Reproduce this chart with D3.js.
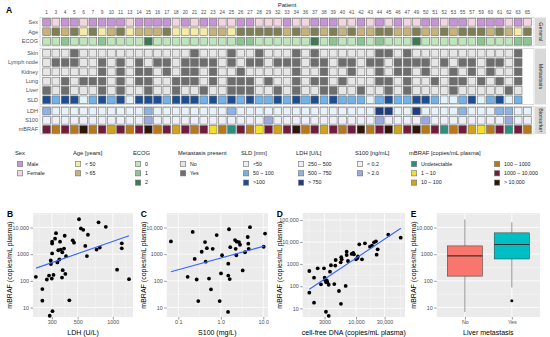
<!DOCTYPE html>
<html>
<head>
<meta charset="utf-8">
<script src="https://cdn.jsdelivr.net/npm/d3@7"></script>
<style>
  body { margin: 0; background: #fff; }
</style>
</head>
<body>
<div id="chart"></div>
<script>
// ---------------- panel A data ----------------
const patients = [1,3,4,5,6,7,9,10,11,13,14,15,16,17,18,20,21,22,23,24,25,26,27,28,29,32,33,34,36,37,
  38,39,40,41,42,43,44,45,46,47,49,50,51,52,53,55,57,59,60,61,62,63,65];

const sexLevels = ["Male", "Female"];
const sexValues = [0,1,0,0,1,0,0,0,0,1, 0,0,0,0,1,0,1,0,0,1, 1,0,0,1,1,1,0,1,1,0, 0,0,1,1,0,1,0,1,0,1, 1,0,0,1,0,0,1,0,0,0, 1,0,1];
// 0 = "< 50", 1 = "> 65", 2 = middle group (not in the legend)
const ageLevels = ["< 50", "> 65", "50 – 65"];
const ageValues = [1,2,1,2,0,2,0,1,2,0, 1,1,1,2,0,0,0,0,1,1, 0,2,2,2,2,2,1,2,1,2, 1,2,1,2,1,1,2,2,1,1, 2,1,1,2,1,2,2,2,1,2, 1,0,2];
const ecogLevels = ["0", "1", "2"];
const ecogValues = [0,0,1,0,0,0,1,0,0,0, 0,2,0,0,0,0,0,0,0,0, 0,1,1,0,0,0,0,0,0,2, 0,1,0,0,1,0,1,0,0,0, 2,0,0,0,0,0,0,1,0,0, 0,1,1];

const metLevels = ["No", "Yes"];
const skinValues   = [0,0,0,1,0,0,0,0,0,0, 0,0,0,0,0,0,1,0,0,0, 1,0,0,1,0,0,0,1,0,1, 0,0,0,0,0,0,1,1,0,1, 0,0,0,0,0,0,0,0,0,0, 0,1,null];
const lymphValues  = [0,1,1,1,0,0,1,0,1,0, 1,0,1,1,0,1,1,1,1,0, 1,0,1,1,0,1,1,1,0,1, 1,0,1,1,0,1,1,0,1,1, 1,1,0,1,0,1,1,0,1,1, 0,1,null];
const kidneyValues = [0,0,0,0,0,0,1,0,1,0, 1,1,0,1,0,1,1,0,1,0, 0,1,0,0,0,0,0,1,0,0, 1,0,0,1,0,0,1,0,1,1, 0,1,0,0,1,0,1,0,1,0, 0,1,null];
const lungValues   = [0,0,1,0,1,1,1,0,1,0, 1,1,0,0,1,1,1,0,1,0, 1,1,1,0,1,0,0,1,0,1, 1,0,1,0,0,0,1,1,0,1, 0,0,1,0,1,1,0,1,0,1, 0,1,null];
const liverValues  = [1,0,1,0,0,0,1,0,1,0, 0,1,0,0,1,0,0,1,0,0, 1,1,1,0,0,1,0,1,0,0, 1,1,0,0,1,0,0,1,0,1, 0,0,0,0,1,0,0,0,0,0, 1,0,null];
const sldLevels = ["<50", "50 – 100", ">100"];
const sldValues    = [2,1,2,2,0,1,2,1,2,0, 2,2,2,1,2,2,2,1,2,1, 2,1,2,1,1,2,1,2,1,2, 1,2,1,1,1,0,1,2,1,1, 2,2,1,0,0,1,2,0,1,2, 0,1,null];

const ldhLevels = ["250 – 500", "500 – 750", "> 750"];
const ldhValues  = [1,0,0,0,0,0,0,0,0,0, 0,1,0,0,0,0,0,0,0,0, 1,0,0,0,0,0,0,0,0,0, 0,0,0,0,0,0,2,2,0,0, 2,0,0,0,0,1,0,0,0,1, 1,0,0];
const s100Levels = ["< 0.2", "> 2.0"];
const s100Values = [0,0,0,0,0,0,0,0,0,0, 0,1,0,0,0,0,0,0,0,0, 0,0,0,0,1,0,0,0,0,0, 0,0,0,0,0,0,1,0,0,0, 0,1,0,0,0,0,0,0,0,0, 1,0,0];
const mbrafLevels = ["Undetectable", "1 – 10", "10 – 100", "100 – 1000", "1000 – 10,000", "> 10,000"];
const mbrafValues = [4,3,4,3,5,3,4,2,4,3, 4,5,3,4,2,4,3,4,1,3, 0,4,3,1,4,2,4,5,3,4, 2,4,3,4,5,3,4,5,2,4, 5,3,4,0,3,4,2,1,3,4, 0,4,3];

// ---------------- panels B-E data ----------------
const ldhB = [219,249,249,272,284,288,294,295,300,302,302,302,304,310,320,326,335,341,348,353,358,367,369,372,382,
  387,392,397,424,453,465,513,533,558,581,600,612,726,755,774,871,1088,1194,1194,1377];
const mbrafB = [141,49,18,112,158,4.9,585,427,122,1070,2500,2950,7.3,166,3800,6150,490,1400,630,2950,1490,132,1180,250,1620,
  4900,182,840,18.6,3300,2700,20400,9200,8200,2030,850,5350,1490,15700,1770,10600,263,2550,1660,115];
const fitBx = [220, 1377], fitBy = [300, 4900];

const s100C = [0.067,0.166,0.218,0.243,0.271,0.295,0.355,0.425,0.44,0.47,0.527,0.587,0.644,0.80,0.94,1.01,1.07,1.48,1.5,1.5,
  1.56,1.62,1.67,2.16,2.24,2.32,2.37,2.68,2.83,3.27,3.71,4.3,4.44,4.86,4.53,10.2,11];
const mbrafC = [3000,141,6800,665,112,17.4,1230,2840,525,1680,122,48,1590,5200,17.4,190,910,6.8,440,158,
  8600,116,1830,3380,1590,910,2940,2840,2260,245,1180,4400,2470,10300,1590,1900,5900];
const fitCx = [0.067, 10.5], fitCy = [220, 2000];

const cfdnaD = [1670,1670,2000,2000,2300,2610,2930,3010,3080,3160,3250,3330,3510,3160,3510,3690,3830,4520,4590,4350,
  5210,5560,5620,5780,5690,6730,7000,7000,7360,8480,9020,9260,10000,10500,10800,11350,12600,14100,17100,18500,
  20000,21500,22100,23000,34500,55600];
const mbrafD = [490,51,245,18,650,122,650,245,186,155,186,151,117,7,4.6,455,890,860,1540,126,
  61,1210,16,1660,2050,103,2600,3660,1390,2890,3200,2800,1660,1840,2270,7940,1660,8800,6200,6860,
  9770,10800,2680,4710,21600,15800];
const fitDx = [1670, 56000], fitDy = [73, 42000];

const liverGroups = ["No", "Yes"];
const boxLow = [6.8, 56], boxQ1 = [150, 660], boxMed = [860, 2300], boxQ3 = [2040, 6300], boxHigh = [20000, 15800];
const outlierGroup = ["Yes"], outlierValue = [18];

// ---------------- colours ----------------
const sexColors = ["#c993d8", "#f3d5df"];
const ageColors = ["#f6eba6", "#c6b27b", "#7f7f56"];
const ecogColors = ["#bfe5bd", "#8cc494", "#3e7b53"];
const metColors = ["#e6e6e6", "#6e6e6e"];
const sldColors = ["#e3f3fa", "#72b2e6", "#1d4e92"];
const ldhColors = ["#e8f2fa", "#8fb3e0", "#1f3d7f"];
const s100Colors = ["#edf0fa", "#9aa9e1"];
const mbrafColors = ["#2e8e7e", "#f2df2c", "#cfa21f", "#b5781e", "#701d3c", "#2f160a"];

const FONT = "'Liberation Sans', Arial, sans-serif";

const svg = d3.select("#chart").append("svg")
  .attr("width", 550).attr("height", 337)
  .style("font-family", FONT);

// ================= panel A =================
const heatRows = [
  {group: "General", name: "Sex", values: sexValues, colors: sexColors},
  {group: "General", name: "Age", values: ageValues, colors: ageColors},
  {group: "General", name: "ECOG", values: ecogValues, colors: ecogColors},
  {group: "Metastasis", name: "Skin", values: skinValues, colors: metColors},
  {group: "Metastasis", name: "Lymph node", values: lymphValues, colors: metColors},
  {group: "Metastasis", name: "Kidney", values: kidneyValues, colors: metColors},
  {group: "Metastasis", name: "Lung", values: lungValues, colors: metColors},
  {group: "Metastasis", name: "Liver", values: liverValues, colors: metColors},
  {group: "Metastasis", name: "SLD", values: sldValues, colors: sldColors},
  {group: "Biomarker", name: "LDH", values: ldhValues, colors: ldhColors},
  {group: "Biomarker", name: "S100", values: s100Values, colors: s100Colors},
  {group: "Biomarker", name: "mBRAF", values: mbrafValues, colors: mbrafColors}
];
const groupBox = {General: [17.5, 46], Metastasis: [48.5, 104.5], Biomarker: [106.5, 134]};

const xA = d3.scaleBand().domain(patients).range([42, 532]).paddingInner(0.16).paddingOuter(0.08);
const cell = xA.bandwidth();

svg.append("text").attr("x", 6).attr("y", 13).attr("font-size", 8.5).attr("font-weight", "bold").text("A");
svg.append("text").attr("x", 287).attr("y", 7).attr("text-anchor", "middle")
  .attr("font-size", 6).attr("fill", "#1a1a1a").text("Patient");
svg.append("g").selectAll("text").data(patients).join("text")
  .attr("x", d => xA(d) + cell / 2).attr("y", 14)
  .attr("text-anchor", "middle").attr("font-size", 4.8).attr("fill", "#4d4d4d")
  .text(d => d);

Object.keys(groupBox).forEach(g => {
  const rows = heatRows.filter(r => r.group === g);
  const [y0, y1] = groupBox[g];
  const yA = d3.scaleBand().domain(rows.map(r => r.name)).range([y0, y1]).paddingInner(0.16).paddingOuter(0.08);

  svg.append("rect").attr("x", 40).attr("y", y0).attr("width", 494).attr("height", y1 - y0)
    .attr("fill", "#fff").attr("stroke", "#c4c4c4").attr("stroke-width", 0.6);
  svg.append("rect").attr("x", 535).attr("y", y0).attr("width", 11).attr("height", y1 - y0)
    .attr("fill", "#d9d9d9");
  svg.append("text").attr("transform", `translate(538.6,${(y0 + y1) / 2}) rotate(90)`)
    .attr("text-anchor", "middle").attr("font-size", 5.3).attr("fill", "#1a1a1a").text(g);

  rows.forEach(r => {
    const yc = yA(r.name) + yA.bandwidth() / 2;
    svg.append("text").attr("x", 38).attr("y", yc).attr("dy", "0.35em")
      .attr("text-anchor", "end").attr("font-size", 5.5).attr("fill", "#4d4d4d").text(r.name);
    svg.append("g").selectAll("rect")
      .data(patients.map((p, i) => ({p, v: r.values[i]})).filter(d => d.v !== null))
      .join("rect")
        .attr("x", d => xA(d.p)).attr("y", yc - cell / 2)
        .attr("width", cell).attr("height", cell)
        .attr("fill", d => r.colors[d.v])
        .attr("stroke", "#707070").attr("stroke-width", 0.6);
  });
});

// legend
const legendBlocks = [
  {title: "Sex", x: 15, labels: sexLevels, colors: sexColors},
  {title: "Age [years]", x: 73, labels: ageLevels.slice(0, 2), colors: ageColors.slice(0, 2)},
  {title: "ECOG", x: 133, labels: ecogLevels, colors: ecogColors},
  {title: "Metastasis present", x: 178, labels: metLevels, colors: metColors},
  {title: "SLD [mm]", x: 241, labels: sldLevels, colors: sldColors},
  {title: "LDH [U/L]", x: 296, labels: ldhLevels, colors: ldhColors},
  {title: "S100 [ng/mL]", x: 355, labels: s100Levels, colors: s100Colors},
  {title: "mBRAF [copies/mL plasma]", x: 409, labels: mbrafLevels, colors: mbrafColors}
];
legendBlocks.forEach(b => {
  const g = svg.append("g");
  g.append("text").attr("x", b.x).attr("y", 155).attr("font-size", 5.8).attr("fill", "#1a1a1a").text(b.title);
  b.labels.forEach((lab, i) => {
    const col = Math.floor(i / 3), row = i % 3;
    const kx = b.x + 2.5 + col * 83, ky = 164 + row * 9.3;
    g.append("rect").attr("x", kx).attr("y", ky - 2.6).attr("width", 5.2).attr("height", 5.2)
      .attr("fill", b.colors[i]).attr("stroke", "#707070").attr("stroke-width", 0.6);
    g.append("text").attr("x", kx + 9.5).attr("y", ky).attr("dy", "0.35em")
      .attr("font-size", 5.3).attr("fill", "#1a1a1a").text(lab);
  });
});

// ================= panels B-E =================
const PT = 213, PB = 317;

function logMinor(scale, majors) {
  const d = scale.domain().map(Math.log10);
  const b = majors.map(Math.log10);
  const bd = b[1] - b[0];
  if (d[0] < b[0]) b.unshift(b[0] - bd);
  if (d[1] > b[b.length - 1]) b.push(b[b.length - 1] + bd);
  const m = [];
  for (let i = 0; i < b.length - 1; i++) {
    const v = (b[i] + b[i + 1]) / 2;
    if (v > d[0] && v < d[1]) m.push(Math.pow(10, v));
  }
  return m;
}
const fmtBig = v => v >= 10000 ? d3.format(",")(v) : String(v);

function styleAxis(g) {
  g.attr("font-family", FONT).attr("font-size", 5.4);
  g.select(".domain").remove();
  g.selectAll(".tick line").attr("stroke", "#333").attr("stroke-width", 0.5);
  g.selectAll(".tick text").attr("fill", "#4d4d4d");
}

function panelFrame(p) {
  const [x0, x1] = p.x.range();
  svg.append("rect").attr("x", x0).attr("y", PT).attr("width", x1 - x0).attr("height", PB - PT).attr("fill", "#ebebeb");
  const grid = svg.append("g").attr("stroke", "#fff");
  grid.selectAll(".ymin").data(logMinor(p.y, p.yTicks)).join("line")
    .attr("x1", x0).attr("x2", x1).attr("y1", d => p.y(d)).attr("y2", d => p.y(d)).attr("stroke-width", 0.35);
  if (p.xTicks) {
    grid.selectAll(".xmin").data(logMinor(p.x, p.xTicks)).join("line")
      .attr("y1", PT).attr("y2", PB).attr("x1", d => p.x(d)).attr("x2", d => p.x(d)).attr("stroke-width", 0.35);
  }
  grid.selectAll(".ymaj").data(p.yTicks).join("line")
    .attr("x1", x0).attr("x2", x1).attr("y1", d => p.y(d)).attr("y2", d => p.y(d)).attr("stroke-width", 0.8);
  grid.selectAll(".xmaj").data(p.xTicks || p.x.domain()).join("line")
    .attr("y1", PT).attr("y2", PB).attr("x1", d => p.x(d)).attr("x2", d => p.x(d)).attr("stroke-width", 0.8);

  svg.append("g").attr("transform", `translate(${x0},0)`)
    .call(d3.axisLeft(p.y).tickValues(p.yTicks).tickFormat(fmtBig).tickSize(2.5).tickPadding(1.5))
    .call(styleAxis);
  const xa = d3.axisBottom(p.x).tickSize(2.5).tickPadding(1);
  if (p.xTicks) xa.tickValues(p.xTicks).tickFormat(p.xFmt);
  svg.append("g").attr("transform", `translate(0,${PB})`).call(xa).call(styleAxis);

  svg.append("text").attr("x", (x0 + x1) / 2).attr("y", 334.5).attr("text-anchor", "middle")
    .attr("font-size", 7).attr("fill", "#000").text(p.xTitle);
  svg.append("text").attr("transform", `translate(${x0 - 21},${(PT + PB) / 2}) rotate(-90)`)
    .attr("text-anchor", "middle").attr("font-size", 7).attr("fill", "#000").text("mBRAF (copies/mL plasma)");
  svg.append("text").attr("x", x0 - 26).attr("y", 216.5).attr("font-size", 8.5).attr("font-weight", "bold").text(p.label);
}

function scatterPanel(p) {
  panelFrame(p);
  svg.append("g").selectAll("circle").data(p.xs.map((v, i) => [v, p.ys[i]])).join("circle")
    .attr("cx", d => p.x(d[0])).attr("cy", d => p.y(d[1])).attr("r", 1.9).attr("fill", "#000");
  svg.append("path")
    .datum(p.fitX.map((v, i) => [v, p.fitY[i]]))
    .attr("d", d3.line().x(d => p.x(d[0])).y(d => p.y(d[1])))
    .attr("fill", "none").attr("stroke", "#3366ff").attr("stroke-width", 1.1);
}

const yMbraf = () => d3.scaleLog().domain([4.4, 35000]).range([PB, PT]);

scatterPanel({
  label: "B", xTitle: "LDH (U/L)",
  x: d3.scaleLog().domain([207, 1490]).range([33, 133]),
  y: yMbraf(), yTicks: [10, 100, 1000, 10000],
  xTicks: [300, 500, 1000], xFmt: d => String(d),
  xs: ldhB, ys: mbrafB, fitX: fitBx, fitY: fitBy
});

scatterPanel({
  label: "C", xTitle: "S100 (mg/L)",
  x: d3.scaleLog().domain([0.0533, 12.9]).range([166.7, 268]),
  y: yMbraf(), yTicks: [10, 100, 1000, 10000],
  xTicks: [0.1, 1, 10], xFmt: d3.format(".1f"),
  xs: s100C, ys: mbrafC, fitX: fitCx, fitY: fitCy
});

scatterPanel({
  label: "D", xTitle: "cell-free DNA (copies/mL plasma)",
  x: d3.scaleLog().domain([1295, 65600]).range([302.7, 405]),
  y: d3.scaleLog().domain([4.05, 207000]).range([PB, PT]), yTicks: [10, 100, 1000, 10000, 100000],
  xTicks: [3000, 10000, 30000], xFmt: fmtBig,
  xs: cfdnaD, ys: mbrafD, fitX: fitDx, fitY: fitDy
});

// panel E: boxplot
const xE = d3.scalePoint().domain(liverGroups).range([436.7, 540]).padding(0.6);
const yE = yMbraf();
panelFrame({label: "E", xTitle: "Liver metastasis", x: xE, y: yE, yTicks: [10, 100, 1000, 10000]});
const boxW = xE.step() * 0.75;
const boxFill = ["#f8766d", "#00bfc4"];
const boxes = liverGroups.map((g, i) => ({g, lo: boxLow[i], q1: boxQ1[i], med: boxMed[i], q3: boxQ3[i], hi: boxHigh[i], fill: boxFill[i]}));
const bg = svg.append("g").attr("stroke", "#333");
bg.selectAll(".wh").data(boxes).join("line")
  .attr("x1", d => xE(d.g)).attr("x2", d => xE(d.g)).attr("y1", d => yE(d.hi)).attr("y2", d => yE(d.q3)).attr("stroke-width", 0.5);
bg.selectAll(".wl").data(boxes).join("line")
  .attr("x1", d => xE(d.g)).attr("x2", d => xE(d.g)).attr("y1", d => yE(d.q1)).attr("y2", d => yE(d.lo)).attr("stroke-width", 0.5);
bg.selectAll("rect").data(boxes).join("rect")
  .attr("x", d => xE(d.g) - boxW / 2).attr("width", boxW)
  .attr("y", d => yE(d.q3)).attr("height", d => yE(d.q1) - yE(d.q3))
  .attr("fill", d => d.fill).attr("stroke-width", 0.5);
bg.selectAll(".med").data(boxes).join("line")
  .attr("x1", d => xE(d.g) - boxW / 2).attr("x2", d => xE(d.g) + boxW / 2)
  .attr("y1", d => yE(d.med)).attr("y2", d => yE(d.med)).attr("stroke-width", 1.1);
svg.append("g").selectAll("circle").data(outlierGroup.map((g, i) => [g, outlierValue[i]])).join("circle")
  .attr("cx", d => xE(d[0])).attr("cy", d => yE(d[1])).attr("r", 1.5).attr("fill", "#000");
</script>
</body>
</html>
